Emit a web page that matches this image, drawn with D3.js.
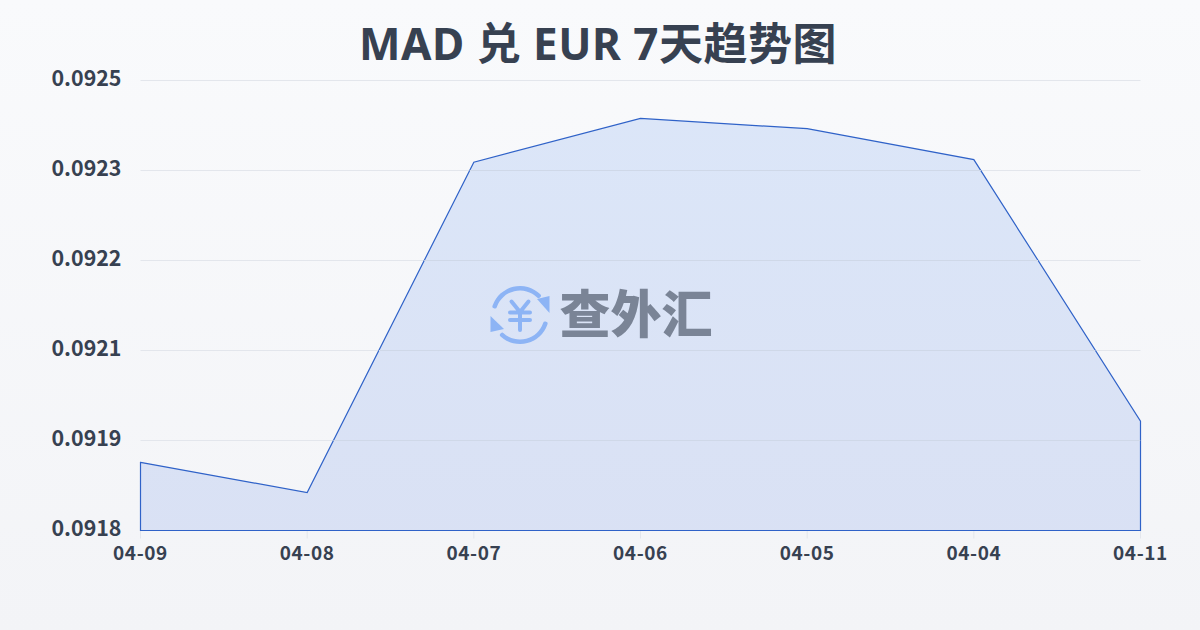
<!DOCTYPE html>
<html><head><meta charset="utf-8">
<style>html,body{margin:0;padding:0;width:1200px;height:630px;overflow:hidden}svg{display:block}
text{font-family:"Noto Sans CJK SC",sans-serif}</style>
<script src="https://cdn.jsdelivr.net/npm/d3@7"></script></head><body><div id="c"></div>
<script>
const titleText = "MAD 兑 EUR 7天趋势图";
const categories = ["04-09","04-08","04-07","04-06","04-05","04-04","04-11"];
const rates = [0.091906,0.091859,0.092373,0.092441,0.092425,0.092377,0.09197];
const yTickValues = [0.0918,0.09194,0.09208,0.09222,0.09236,0.0925];
const yTickLabels = ["0.0918","0.0919","0.0921","0.0922","0.0923","0.0925"];
const watermarkText = "查外汇";

const W=1200,H=630,m={l:140.5,r:1140.5,t:80,b:530.5};
const svg=d3.select("#c").append("svg").attr("width",W).attr("height",H);
const defs=svg.append("defs");
const bg=defs.append("linearGradient").attr("id","bg").attr("x1",0).attr("y1",0).attr("x2",0).attr("y2",1);
bg.append("stop").attr("offset",0).attr("stop-color","#f9fafc");
bg.append("stop").attr("offset",1).attr("stop-color","#f3f4f7");
const ag=defs.append("linearGradient").attr("id","ag").attr("gradientUnits","userSpaceOnUse").attr("x1",0).attr("y1",118).attr("x2",0).attr("y2",530);
ag.append("stop").attr("offset",0).attr("stop-color","#dae5f8");
ag.append("stop").attr("offset",1).attr("stop-color","#d8e0f4");
svg.append("rect").attr("width",W).attr("height",H).attr("fill","url(#bg)");

const x=d3.scalePoint().domain(categories).range([m.l,m.r]);
const y=d3.scaleLinear().domain([0.0918,0.0925]).range([m.b,m.t+.5]);

svg.append("text").attr("x",598).attr("y",60).attr("text-anchor","middle")
  .attr("font-size",44).attr("font-weight",700).attr("fill","#374151").attr("letter-spacing",.5)
  .style("font-family",'"Noto Sans","Noto Sans CJK SC"').text(titleText);

svg.append("g").selectAll("line").data(yTickValues).join("line")
  .attr("x1",m.l).attr("x2",m.r).attr("y1",d=>y(d)).attr("y2",d=>y(d))
  .attr("stroke","#e3e6ec").attr("stroke-width",1);

svg.append("g").selectAll("line").data(categories).join("line")
  .attr("x1",d=>x(d)).attr("x2",d=>x(d)).attr("y1",m.b).attr("y2",m.b+8)
  .attr("stroke","#e3e6ec");

const pts=categories.map((c,i)=>[c,rates[i]]);
const area=d3.area().x(d=>x(d[0])).y0(y(0.0918)).y1(d=>y(d[1]));
svg.append("path").datum(pts).attr("d",area).attr("fill","url(#ag)").attr("fill-opacity",.95)
  .attr("stroke","#2f62c8").attr("stroke-width",1.2);

defs.append("clipPath").attr("id","ac").append("path").datum(pts).attr("d",area);
svg.append("g").attr("clip-path","url(#ac)").selectAll("line").data(yTickValues.slice(1,5)).join("line")
  .attr("x1",m.l).attr("x2",m.r).attr("y1",d=>y(d)).attr("y2",d=>y(d))
  .attr("stroke","#cfd8e8").attr("stroke-width",1);

svg.append("g").selectAll("text").data(yTickValues).join("text")
  .attr("x",121.5).attr("y",d=>y(d)-1.5).attr("dy","0.35em").attr("text-anchor","end")
  .attr("font-size",21.4).attr("font-weight",700).attr("fill","#374151")
  .text((d,i)=>yTickLabels[i]);
svg.append("g").selectAll("text").data(categories).join("text")
  .attr("x",d=>x(d)).attr("y",560).attr("text-anchor","middle").attr("letter-spacing",.6)
  .attr("font-size",19).attr("font-weight",700).attr("fill","#374151").text(d=>d);

// watermark logo
const wm=svg.append("g");
const ic=wm.append("g").attr("transform","translate(520,315)");
const c1="#8db4f5";
const arc=d3.arc().innerRadius(24.5).outerRadius(29).cornerRadius(2);
ic.append("path").attr("d",arc({startAngle:-1.32,endAngle:.85})).attr("fill",c1);
ic.append("path").attr("d",arc({startAngle:1.82,endAngle:3.95})).attr("fill",c1);
ic.append("path").attr("d","M17,-16L29.5,-19L29.5,-2Z").attr("fill",c1);
ic.append("path").attr("d","M-29.5,1L-29.5,17L-16,14Z").attr("fill",c1);
ic.append("path").attr("d","M-8.5,-13.5L0,-3L8.5,-13.5M-10,-2.5H10M-10,5H10M0,-3V15")
  .attr("fill","none").attr("stroke",c1).attr("stroke-width",4).attr("stroke-linecap","round").attr("stroke-linejoin","round");
wm.append("text").attr("x",636).attr("y",333).attr("text-anchor","middle").attr("font-size",51).attr("font-weight",900)
  .attr("fill","#7a8496").text(watermarkText);
</script></body></html>
